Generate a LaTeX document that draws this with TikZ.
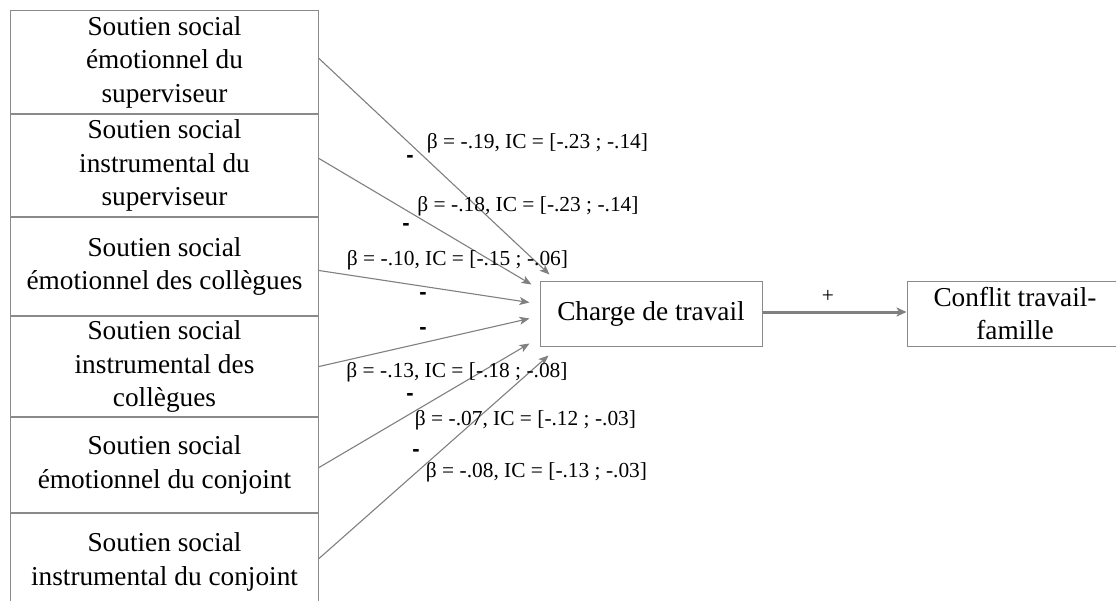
\documentclass[tikz,border=0pt]{standalone}
\usepackage{fontspec}
\setmainfont{Liberation Serif}
\newfontfamily\SignFam{Liberation Sans}
\usetikzlibrary{arrows.meta,calc}
\definecolor{linegray}{RGB}{128,128,128}
\definecolor{boxgray}{RGB}{138,138,138}
\newcommand\BoxFont{\fontsize{27.3pt}{33.5pt}\selectfont}
\newcommand\LabFont{\fontsize{21.4pt}{25pt}\selectfont}
\newcommand\SignFont{\SignFam\fontsize{22pt}{25pt}\selectfont\bfseries}
\begin{document}
\begin{tikzpicture}[x=1pt,y=-1pt,
  leftbox/.style={draw=boxgray, line width=1pt, minimum width=308pt, inner sep=0pt,
    align=center, anchor=north west, font=\BoxFont},
  midbox/.style={draw=boxgray, line width=1pt, inner sep=0pt, align=center, font=\BoxFont},
  arr/.style={draw=linegray, line width=1.1pt, -{Stealth[length=10pt,width=8pt,inset=2.5pt]}},
  bigarr/.style={draw=linegray, line width=3pt, -{Stealth[length=10pt,width=9pt,inset=2.5pt]}},
  lab/.style={inner sep=0pt, font=\LabFont},
  sign/.style={inner sep=0pt, font=\SignFont}]
\clip (0,0) rectangle (1116,600);
\fill[white] (0,0) rectangle (1116,600);

% left column
\node[leftbox, minimum height=103pt] (b1) at (10,10) {Soutien social\\émotionnel du\\superviseur};
\node[leftbox, minimum height=102pt] (b2) at (b1.south west) {Soutien social\\instrumental du\\superviseur};
\node[leftbox, minimum height=98pt] (b3) at (b2.south west) {Soutien social\\émotionnel des collègues};
\node[leftbox, minimum height=100pt] (b4) at (b3.south west) {Soutien social\\instrumental des\\collègues};
\node[leftbox, minimum height=95pt] (b5) at (b4.south west) {Soutien social\\émotionnel du conjoint};
\node[leftbox, minimum height=97pt] (b6) at (b5.south west) {Soutien social\\instrumental du conjoint};

% middle and right boxes
\node[midbox, minimum width=222pt, minimum height=65pt] (charge) at (651,313.5) {Charge de travail};
\node[midbox, minimum width=216pt, minimum height=65pt] (conflit) at (1015,313.5) {Conflit travail-\\famille};

% arrow tips
\coordinate (t1) at ($(charge.north west)+(10,-6)$);
\coordinate (t2) at ($(charge.north west)+(-8,4)$);
\coordinate (t3) at ($(charge.north west)+(-10,22)$);
\coordinate (t4) at ($(charge.north west)+(-10,38)$);
\coordinate (t5) at ($(charge.north west)+(-10,63)$);
\coordinate (t6) at ($(charge.south west)+(9,9)$);

\draw[arr] ($(b1.east)+(0,-3.5)$) -- (t1);
\draw[arr] ($(b2.east)+(0,-7)$) -- (t2);
\draw[arr] ($(b3.east)+(0,4)$) -- (t3);
\draw[arr] ($(b4.east)+(0,0)$) -- (t4);
\draw[arr] ($(b5.east)+(0,2.5)$) -- (t5);
\draw[arr] ($(b6.east)+(0,-3.5)$) -- (t6);
\draw[bigarr] ([yshift=1.5pt]charge.east) -- ([yshift=1.5pt]conflit.west);

% labels
\node[lab] (l1) at (537.5,143) {β = -.19, IC = [-.23 ; -.14]};
\node[lab] (l2) at (528,206) {β = -.18, IC = [-.23 ; -.14]};
\node[lab] (l3) at (457.5,260) {β = -.10, IC = [-.15 ; -.06]};
\node[lab] (l4) at (457,372) {β = -.13, IC = [-.18 ; -.08]};
\node[lab] (l5) at (525.5,420) {β = -.07, IC = [-.12 ; -.03]};
\node[lab] (l6) at (536.5,472) {β = -.08, IC = [-.13 ; -.03]};

\node[sign] (m1) at (410,159) {-};
\node[sign] (m2) at (406,227) {-};
\node[sign] (m3) at (423,296) {-};
\node[sign] (m4) at (423,331) {-};
\node[sign] (m5) at (410,397) {-};
\node[sign] (m6) at (416,453) {-};
\node[lab] (plus) at (828,296) {+};
\end{tikzpicture}
\end{document}
